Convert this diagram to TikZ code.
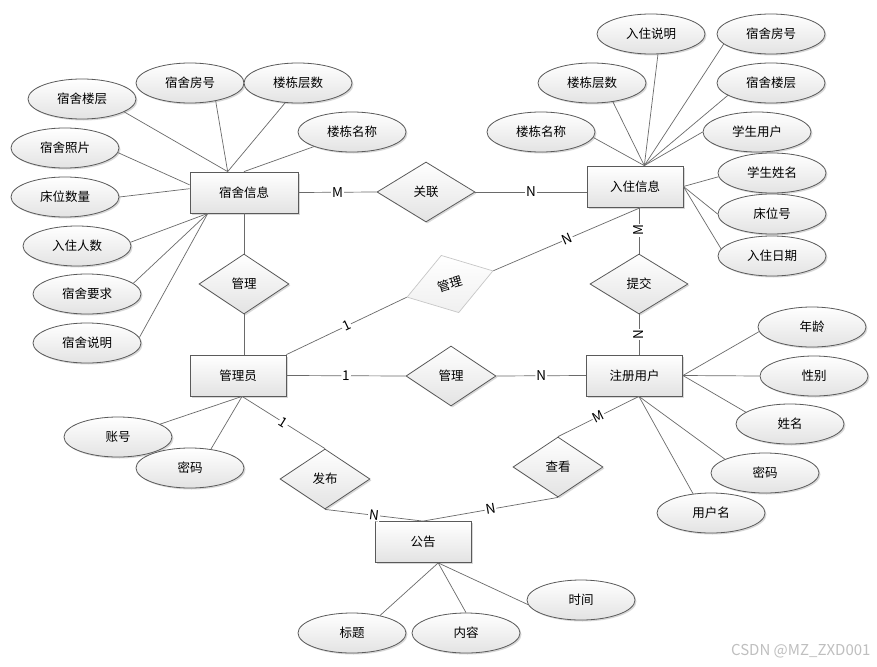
\documentclass[tikz,border=0pt]{standalone}
\usepackage{fontspec}
\setmainfont{Noto Sans CJK SC}
\usetikzlibrary{shapes.geometric,shadows}
\definecolor{edgegray}{HTML}{6A6A6A}
\definecolor{framegray}{HTML}{5A5A5A}

\begin{document}
\begin{tikzpicture}[x=1pt, y=-1pt,
  every node/.style={font=\fontsize{12.5}{14}\selectfont},
  tint/.style={top color=white, bottom color=black!11},
  box/.style={tint, draw=framegray, line width=.8pt,
    drop shadow={shadow xshift=1.5pt, shadow yshift=-1.5pt, opacity=.3}},
  entity/.style={box, rectangle, minimum width=96pt, minimum height=41pt, inner sep=0pt},
  rel/.style={box, diamond, minimum width=90pt, minimum height=60pt, inner sep=0pt},
  attr/.style={box, ellipse, minimum width=108pt, minimum height=40pt, inner sep=0pt},
  link/.style={draw=edgegray, line width=.7pt},
  card/.style={fill=white, inner sep=1pt, sloped, font=\fontsize{13.5}{14}\selectfont}]
  \useasboundingbox[fill=white] (0,0) rectangle (877,666);

  % entities
  \node[entity, minimum width=108pt] (dorm) at (244,192.5) {宿舍信息};
  \node[entity] (checkin) at (635,186.5) {入住信息};
  \node[entity] (admin) at (238,375.5) {管理员};
  \node[entity] (user) at (634.5,375.5) {注册用户};
  \node[entity] (notice) at (423,542) {公告};

  % relations
  \node[rel, minimum width=98pt] (assoc) at (426,192) {关联};
  \node[rel] (mgrA) at (244,284) {管理};
  \node[tint, diamond, draw=black!22, line width=.7pt, bottom color=black!6,
        minimum width=90pt, minimum height=60pt, inner sep=0pt, rotate=17] (mgrB) at (450,284) {管理};
  \node[rel] (mgrC) at (451,376) {管理};
  \node[rel, minimum width=98pt] (submit) at (639,284) {提交};
  \node[rel] (publish) at (325,479) {发布};
  \node[rel] (view) at (558,467) {查看};

  % attributes
  \node[attr] (d1) at (82,99) {宿舍楼层};
  \node[attr] (d2) at (190,83) {宿舍房号};
  \node[attr] (d3) at (298,83) {楼栋层数};
  \node[attr] (d4) at (352,132) {楼栋名称};
  \node[attr] (d5) at (65,148) {宿舍照片};
  \node[attr] (d6) at (65,197) {床位数量};
  \node[attr] (d7) at (77,246) {入住人数};
  \node[attr] (d8) at (87,294) {宿舍要求};
  \node[attr] (d9) at (87,343) {宿舍说明};

  \node[attr] (c1) at (651,34) {入住说明};
  \node[attr] (c2) at (771,34) {宿舍房号};
  \node[attr] (c3) at (592,83) {楼栋层数};
  \node[attr] (c4) at (771,83) {宿舍楼层};
  \node[attr] (c5) at (541,132) {楼栋名称};
  \node[attr] (c6) at (757,132) {学生用户};
  \node[attr] (c7) at (772,173) {学生姓名};
  \node[attr] (c8) at (772,214) {床位号};
  \node[attr] (c9) at (772,256) {入住日期};

  \node[attr] (a1) at (118,437) {账号};
  \node[attr] (a2) at (190,468) {密码};

  \node[attr] (u1) at (812,327) {年龄};
  \node[attr] (u2) at (814,376) {性别};
  \node[attr] (u3) at (790,424) {姓名};
  \node[attr] (u4) at (765,473) {密码};
  \node[attr] (u5) at (711,513) {用户名};

  \node[attr] (n1) at (352,633) {标题};
  \node[attr] (n2) at (466,633) {内容};
  \node[attr] (n3) at (581,600) {时间};

  % attribute lines
  \foreach \a/\p in {d1/-17,d2/-35,d3/-123} \draw[link] (\a.\p) -- (dorm.128);
  \draw[link] (d4.201) -- (dorm.north);
  \draw[link] (d5.-5) -- (dorm.172);
  \draw[link] (d6.east) -- (dorm.176);
  \foreach \a/\p in {d7/4,d8/13,d9/6} \draw[link] (\a.\p) -- (dorm.210);
  \foreach \a/\p in {c1/-71,c2/192,c3/-42,c4/196,c5/-6,c6/180}
    \draw[link] (\a.\p) -- (checkin.66);
  \foreach \a/\p in {c7/184,c8/180,c9/172} \draw[link] (\a.\p) -- (checkin.east);
  \draw[link] (a1.17) -- (admin.-79);
  \draw[link] (a2.42) -- (admin.-79);
  \foreach \a/\p in {u1/185,u2/180,u3/165} \draw[link] (\a.\p) -- (user.east);
  \foreach \a/\p in {u4/161,u5/133} \draw[link] (\a.\p) -- (user.-78);
  \foreach \a/\p in {n1/32,n2/90,n3/185} \draw[link] (\a.\p) -- (notice.-54);

  % relation lines
  \draw[link] (dorm.east) -- node[card] {M} (assoc.west);
  \draw[link] (assoc.east) -- node[card] {N} (assoc.east -| checkin.west);
  \draw[link] (dorm.south) -- (mgrA.north);
  \draw[link] (mgrA.south) -- (mgrA.south |- admin.north);
  \draw[link] (admin.north east) -- node[card] {1} (mgrB.west);
  \draw[link] (mgrB.east) -- node[card] {N} (checkin.-74);
  \draw[link] (submit.north) -- node[card] {M} (submit.north |- checkin.south);
  \draw[link] (submit.south |- user.north) -- node[card] {N} (submit.south);
  \draw[link] (admin.east) -- node[card] {1} (mgrC.west);
  \draw[link] (mgrC.east) -- node[card] {N} (user.west);
  \draw[link] (admin.-79) -- node[card] {1} (publish.north);
  \draw[link] (publish.south) -- node[card] {N} (notice.north);
  \draw[link] (notice.north) -- node[card] {N} (view.south);
  \draw[link] (view.north) -- node[card] {M} (user.-78);

  \node[text=black!25, font=\fontsize{15}{16}\selectfont, anchor=east] (mark) at (874,651) {CSDN @MZ\_ZXD001};
\end{tikzpicture}
\end{document}
